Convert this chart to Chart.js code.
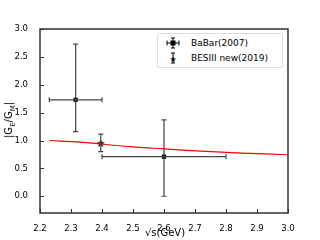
<!DOCTYPE html>
<html>
<head>
<meta charset="utf-8">
<script src="https://cdn.jsdelivr.net/npm/chart.js@4"></script>
<style>
  body { margin: 0; background: #fff; font-family: 'DejaVu Sans', sans-serif; }
  #wrap { position: relative; width: 320px; height: 240px; }
  #c { position: absolute; left: 0; top: 0; }
  .ytitle { position: absolute; left: 10px; top: 120px; transform: translate(-50%, -50%) rotate(-90deg); font-size: 10px; white-space: nowrap; color: #000; }
  .ytitle sub { font-size: 7px; }
  .xtitle { position: absolute; left: 165px; top: 232px; transform: translate(-50%, -50%); font-size: 10px; white-space: nowrap; color: #000; }
  .legend { position: absolute; left: 157px; top: 33px; width: 124px; height: 33px; border: 1px solid #ddd; border-radius: 2px; background: #fff; font-size: 9px; color: #000; }
  .legend div { position: absolute; left: 6px; height: 14px; line-height: 14px; }
  .legend svg { position: absolute; left: 0; top: 0; }
  .legend span { position: absolute; left: 27px; white-space: nowrap; }
</style>
</head>
<body>
<div id="wrap">
  <canvas id="c" width="320" height="240"></canvas>
  <div class="ytitle">|G<sub>E</sub>/G<sub>M</sub>|</div>
  <div class="xtitle">√s(GeV)</div>
  <div class="legend">
    <div style="top:2px">
      <svg width="20" height="14"><g stroke="#000" stroke-width="1"><line x1="3" y1="7" x2="15" y2="7"/><line x1="9" y1="2" x2="9" y2="12"/><line x1="3" y1="4.5" x2="3" y2="9.5"/><line x1="15" y1="4.5" x2="15" y2="9.5"/><line x1="7" y1="2" x2="11" y2="2"/><line x1="7" y1="12" x2="11" y2="12"/></g><rect x="6.5" y="4.5" width="5" height="5" fill="#000"/></svg>
      <span>BaBar(2007)</span>
    </div>
    <div style="top:17px">
      <svg width="20" height="14"><g stroke="#000" stroke-width="1"><line x1="9" y1="2" x2="9" y2="12"/><line x1="7" y1="2" x2="11" y2="2"/><line x1="7" y1="12" x2="11" y2="12"/></g><text x="9" y="10.5" font-size="8" text-anchor="middle" fill="#000">★</text></svg>
      <span>BESIII new(2019)</span>
    </div>
  </div>
</div>
<script>
// BaBar(2007) points with asymmetric x / y errors
const babarX = [2.315, 2.6];
const babarY = [1.73, 0.71];
const babarXLo = [2.23, 2.40];
const babarXHi = [2.40, 2.80];
const babarYLo = [1.16, 0.0];
const babarYHi = [2.73, 1.37];

// BESIII new(2019)
const besX = [2.396];
const besY = [0.95];
const besYLo = [0.80];
const besYHi = [1.115];

// red fit curve
const fitX = [2.23, 2.33, 2.49, 2.6, 2.72, 2.85, 3.0];
const fitY = [1.0, 0.97, 0.89, 0.85, 0.81, 0.775, 0.745];

const xTicks = [2.2, 2.3, 2.4, 2.5, 2.6, 2.7, 2.8, 2.9, 3.0];
const yTicks = [0.0, 0.5, 1.0, 1.5, 2.0, 2.5, 3.0];

const tickFont = { family: 'DejaVu Sans', size: 8.5 };

// error bars, frame and inward ticks, all placed through the scales
const errorBars = {
    id: 'errorBars',
    afterDatasetsDraw(chart) {
        const ctx = chart.ctx;
        const xs = chart.scales.x, ys = chart.scales.y;
        const a = chart.chartArea;
        ctx.save();
        ctx.lineWidth = 1.2;
        ctx.strokeStyle = '#444';
        const cap = 2.5;
        babarX.forEach((x, i) => {
            const px = xs.getPixelForValue(x), py = ys.getPixelForValue(babarY[i]);
            const x0 = xs.getPixelForValue(babarXLo[i]), x1 = xs.getPixelForValue(babarXHi[i]);
            const y0 = ys.getPixelForValue(babarYLo[i]), y1 = ys.getPixelForValue(babarYHi[i]);
            ctx.beginPath();
            ctx.moveTo(x0, py); ctx.lineTo(x1, py);
            ctx.moveTo(x0, py - cap); ctx.lineTo(x0, py + cap);
            ctx.moveTo(x1, py - cap); ctx.lineTo(x1, py + cap);
            ctx.moveTo(px, y0); ctx.lineTo(px, y1);
            ctx.moveTo(px - cap, y0); ctx.lineTo(px + cap, y0);
            ctx.moveTo(px - cap, y1); ctx.lineTo(px + cap, y1);
            ctx.stroke();
        });
        besX.forEach((x, i) => {
            const px = xs.getPixelForValue(x);
            const y0 = ys.getPixelForValue(besYLo[i]), y1 = ys.getPixelForValue(besYHi[i]);
            ctx.beginPath();
            ctx.moveTo(px, y0); ctx.lineTo(px, y1);
            ctx.moveTo(px - cap, y0); ctx.lineTo(px + cap, y0);
            ctx.moveTo(px - cap, y1); ctx.lineTo(px + cap, y1);
            ctx.stroke();
        });

        // frame
        ctx.strokeStyle = '#333';
        ctx.lineWidth = 1.5;
        ctx.beginPath();
        ctx.rect(a.left, a.top, a.right - a.left, a.bottom - a.top);
        ctx.stroke();
        // inward ticks
        ctx.lineWidth = 1;
        ctx.beginPath();
        xTicks.forEach(v => {
            const p = Math.round(xs.getPixelForValue(v)) + 0.5;
            ctx.moveTo(p, a.bottom); ctx.lineTo(p, a.bottom - 4);
        });
        yTicks.forEach(v => {
            const p = Math.round(ys.getPixelForValue(v)) + 0.5;
            ctx.moveTo(a.left, p); ctx.lineTo(a.left + 4, p);
        });
        ctx.stroke();
        ctx.restore();
    }
};

// simple star marker
function starCanvas() {
    const c = document.createElement('canvas');
    c.width = 9; c.height = 9;
    const g = c.getContext('2d');
    g.fillStyle = '#000';
    g.beginPath();
    for (let k = 0; k < 10; k++) {
        const r = k % 2 === 0 ? 4.2 : 1.8;
        const ang = -Math.PI / 2 + k * Math.PI / 5;
        const px = 4.5 + r * Math.cos(ang), py = 4.8 + r * Math.sin(ang);
        if (k === 0) g.moveTo(px, py); else g.lineTo(px, py);
    }
    g.closePath();
    g.fill();
    return c;
}

new Chart(document.getElementById('c'), {
    type: 'scatter',
    data: {
        datasets: [
            {
                label: 'fit',
                type: 'line',
                data: fitX.map((x, i) => ({ x: x, y: fitY[i] })),
                borderColor: '#ff0000',
                borderWidth: 1.2,
                pointRadius: 0,
                tension: 0.4,
                fill: false
            },
            {
                label: 'BaBar(2007)',
                data: babarX.map((x, i) => ({ x: x, y: babarY[i] })),
                pointStyle: 'rect',
                pointRadius: 3,
                backgroundColor: '#000',
                borderColor: '#000',
                borderWidth: 0
            },
            {
                label: 'BESIII new(2019)',
                data: besX.map((x, i) => ({ x: x, y: besY[i] })),
                pointStyle: starCanvas(),
                backgroundColor: '#000',
                borderColor: '#000'
            }
        ]
    },
    options: {
        responsive: false,
        animation: false,
        layout: { padding: { top: 29, right: 32, left: 0, bottom: 0 } },
        plugins: { legend: { display: false }, tooltip: { enabled: false } },
        scales: {
            x: {
                type: 'linear',
                min: 2.2, max: 3.0,
                afterBuildTicks: s => { s.ticks = xTicks.map(v => ({ value: v })); },
                afterFit: s => { s.height = 27; },
                grid: { display: false },
                border: { display: false },
                ticks: { font: tickFont, color: '#000', padding: 3, maxRotation: 0,
                         callback: v => Number(v).toFixed(1) }
            },
            y: {
                type: 'linear',
                min: -0.3, max: 3.0,
                afterBuildTicks: s => { s.ticks = yTicks.map(v => ({ value: v })); },
                afterFit: s => { s.width = 40; },
                grid: { display: false },
                border: { display: false },
                ticks: { font: tickFont, color: '#000', padding: 4,
                         callback: v => Number(v).toFixed(1) }
            }
        }
    },
    plugins: [errorBars]
});
</script>
</body>
</html>
